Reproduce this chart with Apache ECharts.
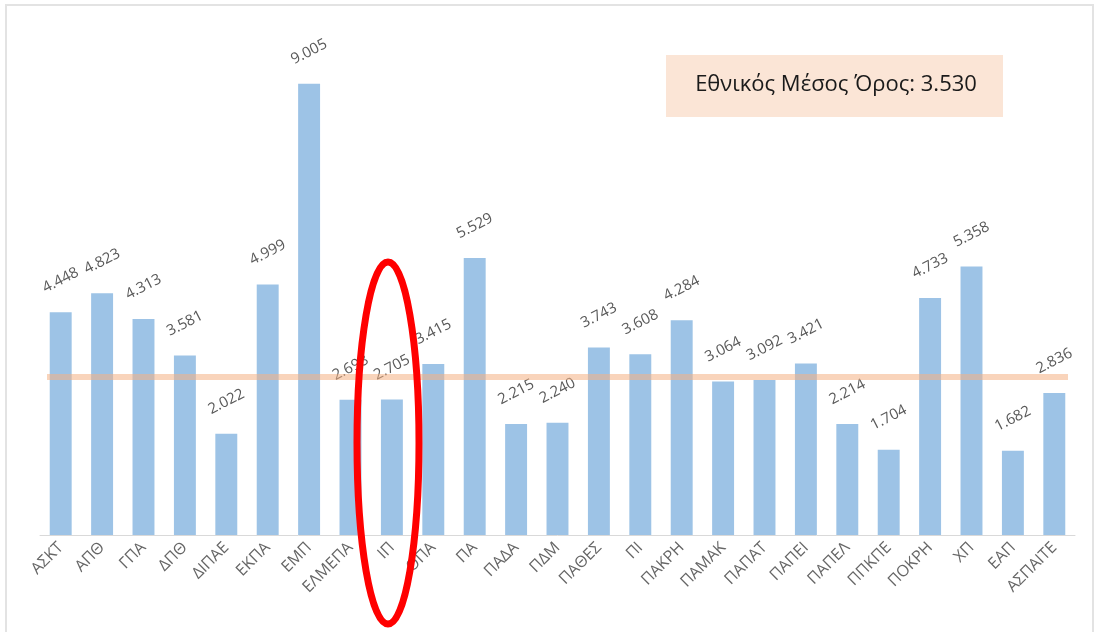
<!DOCTYPE html>
<html>
<head>
<meta charset="utf-8">
<script src="https://cdn.jsdelivr.net/npm/echarts@6/dist/echarts.min.js"></script>
<style>
html,body{margin:0;padding:0;background:#fff;}
#main{width:1095px;height:632px;}
</style>
</head>
<body>
<div id="main"></div>
<script>
const categories = ['ΑΣΚΤ','ΑΠΘ','ΓΠΑ','ΔΠΘ','ΔΙΠΑΕ','ΕΚΠΑ','ΕΜΠ','ΕΛΜΕΠΑ','ΙΠ','ΟΠΑ','ΠΑ','ΠΑΔΑ','ΠΔΜ','ΠΑΘΕΣ','ΠΙ','ΠΑΚΡΗ','ΠΑΜΑΚ','ΠΑΠΑΤ','ΠΑΠΕΙ','ΠΑΠΕΛ','ΠΠΚΠΕ','ΠΟΚΡΗ','ΧΠ','ΕΑΠ','ΑΣΠΑΙΤΕ'];
const values = [4.448,4.823,4.313,3.581,2.022,4.999,9.005,2.698,2.705,3.415,5.529,2.215,2.240,3.743,3.608,4.284,3.064,3.092,3.421,2.214,1.704,4.733,5.358,1.682,2.836];
const avgLineLevel = 3.15;   // position of the drawn line
const avgText = 'Εθνικός Μέσος Όρος: 3.530';

const chart = echarts.init(document.getElementById('main'));
chart.setOption({
  animation: false,
  backgroundColor: '#fff',
  grid: {left: 40, right: 20, top: 34, bottom: 97, containLabel: false},
  xAxis: {
    type: 'category',
    data: categories,
    axisLine: {show: true, lineStyle: {color: '#D9D9D9', width: 1}},
    axisTick: {show: false},
    axisLabel: {rotate: 45, color: '#666666', fontSize: 16, fontFamily: 'Open Sans', margin: 10, interval: 0}
  },
  yAxis: {
    type: 'value', min: 0, max: 10,
    show: false,
    splitLine: {show: false}
  },
  series: [{
    type: 'bar',
    data: values,
    barWidth: '53%',
    itemStyle: {color: '#9DC3E6'},
    label: {
      show: true,
      position: ['50%', -32],
      align: 'center',
      verticalAlign: 'middle',
      rotate: 27,
      color: '#595959',
      fontSize: 15,
      fontFamily: 'Open Sans',
      formatter: p => p.value.toFixed(3)
    },
    markLine: {
      silent: true,
      symbol: 'none',
      label: {show: false},
      lineStyle: {color: 'rgba(244,177,131,0.55)', width: 6, type: 'solid'},
      data: [[{x: 47, yAxis: avgLineLevel}, {x: 1068, yAxis: avgLineLevel}]]
    }
  }],
  graphic: [
    {type: 'rect', shape: {x: 6, y: 5, width: 1087, height: 660}, style: {fill: 'none', stroke: '#E3E3E3', lineWidth: 2}, z: 0},
    {type: 'rect', shape: {x: 666, y: 55, width: 337, height: 62}, style: {fill: '#FBE5D6'}, z: 10},
    {type: 'text', x: 836, y: 85, style: {text: avgText, fill: '#1a1a1a', font: '22px "Open Sans"', align: 'center', verticalAlign: 'middle'}, z: 11},
    {type: 'ellipse', shape: {cx: 388, cy: 443, rx: 31, ry: 181}, style: {fill: 'none', stroke: '#FF0000', lineWidth: 7}, z: 20}
  ]
});
</script>
</body>
</html>
